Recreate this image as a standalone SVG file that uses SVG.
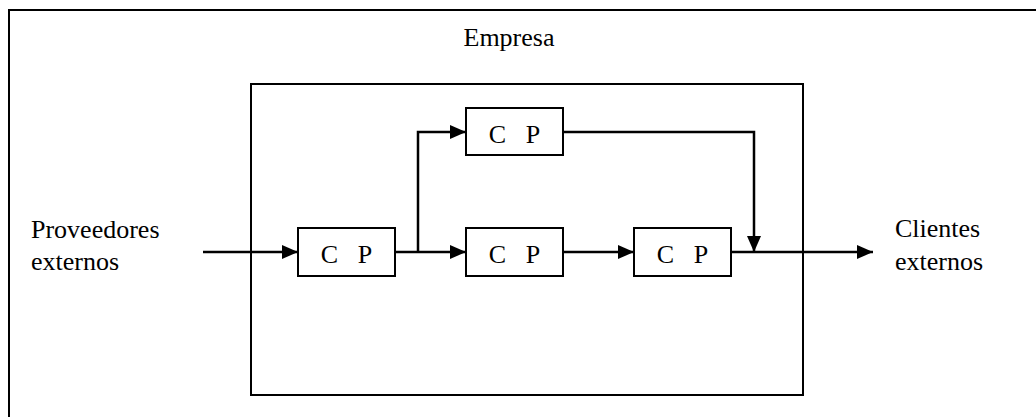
<svg xmlns="http://www.w3.org/2000/svg" width="1036" height="417" viewBox="0 0 1036 417">
  <style>
    .frame { fill: none; stroke: #000; stroke-width: 2; }
    .box { fill: #fff; stroke: #000; stroke-width: 2; }
    .wire { fill: none; stroke: #000; stroke-width: 2.5; }
    text { font-family: "Liberation Serif", "Times New Roman", serif; font-size: 26px; fill: #000; }
    .cp { text-anchor: middle; white-space: pre; }
  </style>
  <defs>
    <marker id="arrow" markerUnits="userSpaceOnUse" markerWidth="16" markerHeight="14" refX="16" refY="7" orient="auto">
      <path d="M0,0 L16,7 L0,14 Z" fill="#000"/>
    </marker>
  </defs>

  <rect fill="#fff" x="0" y="0" width="1036" height="417"/>

  <!-- Outer boundary and company box -->
  <g id="outer">
    <rect class="frame" x="9" y="10" width="1040" height="420"/>
  </g>
  <g id="empresa">
    <rect class="frame" x="251" y="84" width="552" height="311"/>
    <text x="509" y="46" text-anchor="middle">Empresa</text>
  </g>

  <!-- External parties -->
  <g id="proveedores">
    <text x="31" y="238">Proveedores</text>
    <text x="31" y="270">externos</text>
  </g>
  <g id="clientes">
    <text x="895" y="237">Clientes</text>
    <text x="895" y="270">externos</text>
  </g>

  <!-- Connectors -->
  <g id="connectors">
    <line class="wire" x1="203" y1="252" x2="298" y2="252" marker-end="url(#arrow)"/>
    <line class="wire" x1="395" y1="252" x2="466" y2="252" marker-end="url(#arrow)"/>
    <polyline class="wire" points="418,252 418,132 466,132" marker-end="url(#arrow)"/>
    <line class="wire" x1="563" y1="252" x2="634" y2="252" marker-end="url(#arrow)"/>
    <polyline class="wire" points="563,132 754,132 754,252" marker-end="url(#arrow)"/>
    <line class="wire" x1="731" y1="252" x2="873" y2="252" marker-end="url(#arrow)"/>
  </g>

  <!-- Process nodes -->
  <g id="cp1">
    <rect class="box" x="298" y="228" width="97" height="48"/>
    <text class="cp" x="346.5" y="263">C   P</text>
  </g>
  <g id="cp2">
    <rect class="box" x="466" y="228" width="97" height="48"/>
    <text class="cp" x="514.5" y="263">C   P</text>
  </g>
  <g id="cp3">
    <rect class="box" x="634" y="228" width="97" height="48"/>
    <text class="cp" x="682.5" y="263">C   P</text>
  </g>
  <g id="cp-top">
    <rect class="box" x="466" y="108" width="97" height="47"/>
    <text class="cp" x="514.5" y="143">C   P</text>
  </g>
</svg>
